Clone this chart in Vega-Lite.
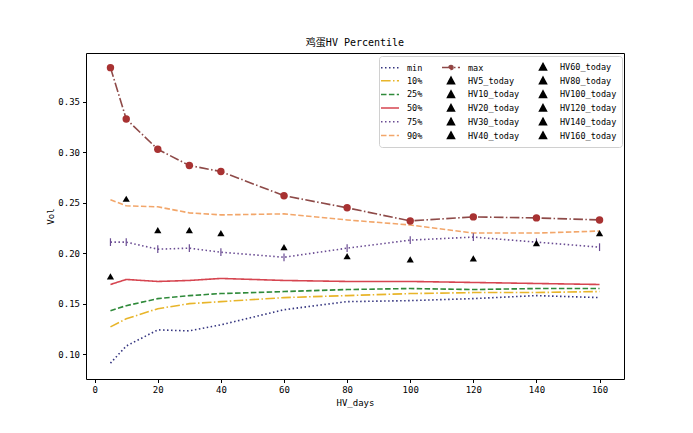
{
  "$schema": "https://vega.github.io/schema/vega-lite/v6.json",
  "width": 538,
  "height": 326,
  "autosize": "none",
  "padding": {"left": 86, "top": 53, "right": 69, "bottom": 54},
  "background": "white",
  "title": {"text": "鸡蛋HV Percentile", "fontSize": 10, "fontWeight": "normal", "font": "DejaVu Sans Mono, Noto Sans CJK SC", "color": "black", "offset": 5},
  "config": {
    "view": {"stroke": "black", "strokeWidth": 1},
    "font": "DejaVu Sans Mono, Noto Sans CJK SC",
    "axis": {"grid": false, "domain": false, "tickColor": "black", "tickSize": 3.5, "labelColor": "black", "labelFontSize": 9, "titleColor": "black", "titleFontSize": 9, "titleFontWeight": "normal", "labelPadding": 3}
  },
  "datasets": {
    "vol": [
      {"s": "min", "k": "pct", "x": 5, "v": 0.091}, {"s": "min", "k": "pct", "x": 10, "v": 0.108}, {"s": "min", "k": "pct", "x": 20, "v": 0.124}, {"s": "min", "k": "pct", "x": 30, "v": 0.123}, {"s": "min", "k": "pct", "x": 40, "v": 0.129}, {"s": "min", "k": "pct", "x": 60, "v": 0.144}, {"s": "min", "k": "pct", "x": 80, "v": 0.152}, {"s": "min", "k": "pct", "x": 100, "v": 0.153}, {"s": "min", "k": "pct", "x": 120, "v": 0.155}, {"s": "min", "k": "pct", "x": 140, "v": 0.158}, {"s": "min", "k": "pct", "x": 160, "v": 0.156},
      {"s": "10%", "k": "pct", "x": 5, "v": 0.127}, {"s": "10%", "k": "pct", "x": 10, "v": 0.135}, {"s": "10%", "k": "pct", "x": 20, "v": 0.145}, {"s": "10%", "k": "pct", "x": 30, "v": 0.150}, {"s": "10%", "k": "pct", "x": 40, "v": 0.152}, {"s": "10%", "k": "pct", "x": 60, "v": 0.156}, {"s": "10%", "k": "pct", "x": 80, "v": 0.158}, {"s": "10%", "k": "pct", "x": 100, "v": 0.160}, {"s": "10%", "k": "pct", "x": 120, "v": 0.161}, {"s": "10%", "k": "pct", "x": 140, "v": 0.161}, {"s": "10%", "k": "pct", "x": 160, "v": 0.162},
      {"s": "25%", "k": "pct", "x": 5, "v": 0.143}, {"s": "25%", "k": "pct", "x": 10, "v": 0.148}, {"s": "25%", "k": "pct", "x": 20, "v": 0.155}, {"s": "25%", "k": "pct", "x": 30, "v": 0.158}, {"s": "25%", "k": "pct", "x": 40, "v": 0.160}, {"s": "25%", "k": "pct", "x": 60, "v": 0.162}, {"s": "25%", "k": "pct", "x": 80, "v": 0.164}, {"s": "25%", "k": "pct", "x": 100, "v": 0.165}, {"s": "25%", "k": "pct", "x": 120, "v": 0.164}, {"s": "25%", "k": "pct", "x": 140, "v": 0.165}, {"s": "25%", "k": "pct", "x": 160, "v": 0.165},
      {"s": "50%", "k": "pct", "x": 5, "v": 0.169}, {"s": "50%", "k": "pct", "x": 10, "v": 0.174}, {"s": "50%", "k": "pct", "x": 20, "v": 0.172}, {"s": "50%", "k": "pct", "x": 30, "v": 0.173}, {"s": "50%", "k": "pct", "x": 40, "v": 0.175}, {"s": "50%", "k": "pct", "x": 60, "v": 0.173}, {"s": "50%", "k": "pct", "x": 80, "v": 0.172}, {"s": "50%", "k": "pct", "x": 100, "v": 0.172}, {"s": "50%", "k": "pct", "x": 120, "v": 0.171}, {"s": "50%", "k": "pct", "x": 140, "v": 0.170}, {"s": "50%", "k": "pct", "x": 160, "v": 0.169},
      {"s": "75%", "k": "pct", "x": 5, "v": 0.211}, {"s": "75%", "k": "pct", "x": 10, "v": 0.211}, {"s": "75%", "k": "pct", "x": 20, "v": 0.204}, {"s": "75%", "k": "pct", "x": 30, "v": 0.205}, {"s": "75%", "k": "pct", "x": 40, "v": 0.201}, {"s": "75%", "k": "pct", "x": 60, "v": 0.196}, {"s": "75%", "k": "pct", "x": 80, "v": 0.205}, {"s": "75%", "k": "pct", "x": 100, "v": 0.213}, {"s": "75%", "k": "pct", "x": 120, "v": 0.216}, {"s": "75%", "k": "pct", "x": 140, "v": 0.211}, {"s": "75%", "k": "pct", "x": 160, "v": 0.206},
      {"s": "90%", "k": "pct", "x": 5, "v": 0.253}, {"s": "90%", "k": "pct", "x": 10, "v": 0.247}, {"s": "90%", "k": "pct", "x": 20, "v": 0.246}, {"s": "90%", "k": "pct", "x": 30, "v": 0.240}, {"s": "90%", "k": "pct", "x": 40, "v": 0.238}, {"s": "90%", "k": "pct", "x": 60, "v": 0.239}, {"s": "90%", "k": "pct", "x": 80, "v": 0.233}, {"s": "90%", "k": "pct", "x": 100, "v": 0.228}, {"s": "90%", "k": "pct", "x": 120, "v": 0.220}, {"s": "90%", "k": "pct", "x": 140, "v": 0.220}, {"s": "90%", "k": "pct", "x": 160, "v": 0.222},
      {"s": "max", "k": "max", "x": 5, "v": 0.384}, {"s": "max", "k": "max", "x": 10, "v": 0.333}, {"s": "max", "k": "max", "x": 20, "v": 0.303}, {"s": "max", "k": "max", "x": 30, "v": 0.287}, {"s": "max", "k": "max", "x": 40, "v": 0.281}, {"s": "max", "k": "max", "x": 60, "v": 0.257}, {"s": "max", "k": "max", "x": 80, "v": 0.245}, {"s": "max", "k": "max", "x": 100, "v": 0.232}, {"s": "max", "k": "max", "x": 120, "v": 0.236}, {"s": "max", "k": "max", "x": 140, "v": 0.235}, {"s": "max", "k": "max", "x": 160, "v": 0.233},
      {"s": "HV5_today", "k": "hv", "x": 5, "v": 0.177}, {"s": "HV10_today", "k": "hv", "x": 10, "v": 0.254}, {"s": "HV20_today", "k": "hv", "x": 20, "v": 0.223}, {"s": "HV30_today", "k": "hv", "x": 30, "v": 0.223}, {"s": "HV40_today", "k": "hv", "x": 40, "v": 0.220}, {"s": "HV60_today", "k": "hv", "x": 60, "v": 0.206}, {"s": "HV80_today", "k": "hv", "x": 80, "v": 0.197}, {"s": "HV100_today", "k": "hv", "x": 100, "v": 0.194}, {"s": "HV120_today", "k": "hv", "x": 120, "v": 0.195}, {"s": "HV140_today", "k": "hv", "x": 140, "v": 0.210}, {"s": "HV160_today", "k": "hv", "x": 160, "v": 0.220}
    ]
  },
  "data": {"name": "vol"},
  "encoding": {
    "x": {"field": "x", "type": "quantitative", "scale": {"domain": [-2.75, 167.75], "nice": false, "zero": false}, "axis": {"values": [0, 20, 40, 60, 80, 100, 120, 140, 160], "title": "HV_days", "titlePadding": 4}},
    "y": {"field": "v", "type": "quantitative", "scale": {"domain": [0.0753, 0.3985], "nice": false, "zero": false}, "axis": {"values": [0.10, 0.15, 0.20, 0.25, 0.30, 0.35], "format": ".2f", "title": "Vol", "titlePadding": 2}}
  },
  "layer": [
    {
      "transform": [{"filter": "datum.k != 'hv'"}],
      "mark": {"type": "line", "strokeWidth": 1.6},
      "encoding": {
        "color": {
          "field": "s", "type": "nominal",
          "scale": {
            "domain": ["min", "10%", "25%", "50%", "75%", "90%", "max", "HV5_today", "HV10_today", "HV20_today", "HV30_today", "HV40_today", "HV60_today", "HV80_today", "HV100_today", "HV120_today", "HV140_today", "HV160_today"],
            "range": ["#34347f", "#e8b52a", "#2f8a3a", "#d64550", "#6a4c93", "#f2a66a", "#8e4a48", "black", "black", "black", "black", "black", "black", "black", "black", "black", "black", "black"]
          },
          "legend": {
            "orient": "none", "legendX": 293, "legendY": 3, "columns": 3, "title": null,
            "symbolType": "M-1.8,0L1.8,0", "symbolSize": 100, "symbolStrokeWidth": 1.5,
            "labelFontSize": 8.5, "labelColor": "black", "labelOffset": 11,
            "rowPadding": 0.7, "columnPadding": 16, "padding": 5,
            "strokeColor": "#d0d0d0", "fillColor": "white", "cornerRadius": 3,
            "encode": {
              "symbols": {
                "update": {
                  "shape": {"signal": "indexof(datum.value, 'HV') == 0 ? 'M0,-0.7L-0.7,0.6L0.7,0.6Z' : (datum.value == 'max' ? 'M-1.8,0L1.8,0M-0.4,0A0.4,0.4 0 1,1 0.4,0A0.4,0.4 0 1,1 -0.4,0Z' : 'M-1.8,0L1.8,0')"},
                  "fill": {"signal": "indexof(datum.value, 'HV') == 0 ? 'black' : (datum.value == 'max' ? '#a83232' : 'transparent')"}
                }
              }
            }
          }
        },
        "strokeDash": {
          "field": "s", "type": "nominal",
          "scale": {
            "domain": ["min", "10%", "25%", "50%", "75%", "90%", "max", "HV5_today", "HV10_today", "HV20_today", "HV30_today", "HV40_today", "HV60_today", "HV80_today", "HV100_today", "HV120_today", "HV140_today", "HV160_today"],
            "range": [[1.5, 2.5], [9.6, 2.4, 1.5, 2.4], [5.5, 2.4], [1, 0], [1.5, 2.5], [5.5, 2.4], [9.6, 2.4, 1.5, 2.4], [1, 0], [1, 0], [1, 0], [1, 0], [1, 0], [1, 0], [1, 0], [1, 0], [1, 0], [1, 0], [1, 0]]
          },
          "legend": {"title": null}
        }
      }
    },
    {
      "transform": [{"filter": "datum.s == 'max'"}],
      "mark": {"type": "point", "shape": "circle", "filled": true, "size": 55, "color": "#a83232", "opacity": 1}
    },
    {
      "transform": [{"filter": "datum.s == '75%'"}],
      "mark": {"type": "point", "shape": "M0,-1L0,1", "filled": false, "size": 60, "strokeWidth": 1.2, "color": "#6a4c93", "opacity": 1}
    },
    {
      "transform": [{"filter": "datum.k == 'hv'"}],
      "mark": {"type": "point", "shape": "triangle-up", "filled": true, "size": 52, "color": "black", "opacity": 1}
    }
  ]
}
